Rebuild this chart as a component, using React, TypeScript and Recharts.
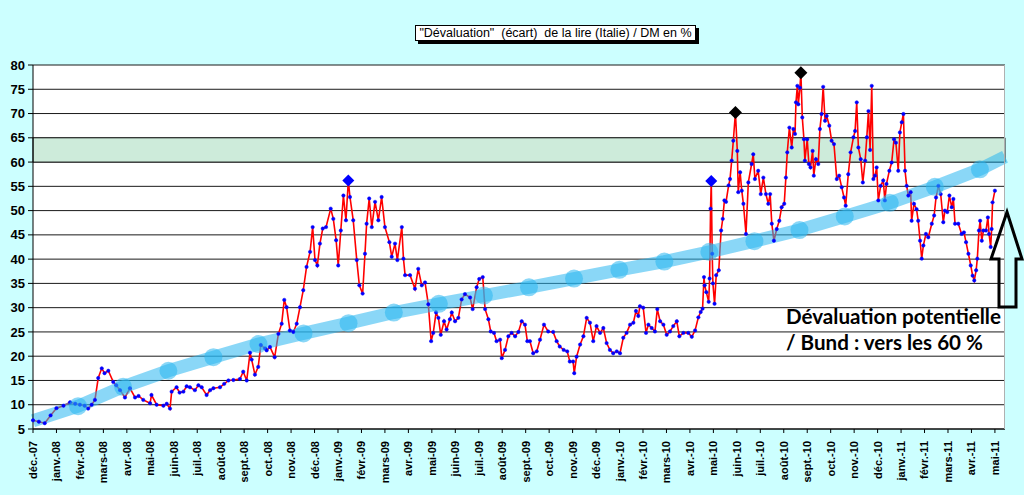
import React from "react";
import {
    ComposedChart, Line, Scatter, XAxis, YAxis, CartesianGrid, ReferenceArea,
} from "recharts";

// x = position in months from déc.-07 (0) to mai-11 (41)
const MOIS_LABELS = [
    "déc.-07", "janv.-08", "févr.-08", "mars-08", "avr.-08", "mai-08", "juin-08", "juil.-08",
    "août-08", "sept.-08", "oct.-08", "nov.-08", "déc.-08", "janv.-09", "févr.-09", "mars-09",
    "avr.-09", "mai-09", "juin-09", "juil.-09", "août-09", "sept.-09", "oct.-09", "nov.-09",
    "déc.-09", "janv.-10", "févr.-10", "mars-10", "avr.-10", "mai-10", "juin-10", "juil.-10",
    "août-10", "sept.-10", "oct.-10", "nov.-10", "déc.-10", "janv.-11", "févr.-11", "mars-11",
    "avr.-11", "mai-11",
];

const Y_TICKS = [5, 10, 15, 20, 25, 30, 35, 40, 45, 50, 55, 60, 65, 70, 75, 80];

// écart lire / DM en %
const MOIS = [
    0, 0.25, 0.5, 0.75, 1.0, 1.3, 1.58, 1.8, 2.0, 2.2, 2.35, 2.5, 2.64, 2.78, 2.93, 3.05, 3.21, 3.42, 3.55, 3.71,
    3.92, 4.13, 4.35, 4.5, 4.7, 4.99, 5.05, 5.27, 5.56, 5.7, 5.84, 5.91, 6.12, 6.25, 6.41, 6.55, 6.69, 6.9, 7.05, 7.19,
    7.4, 7.55, 7.69, 7.97, 8.15, 8.33, 8.54, 8.82, 8.96, 9.11, 9.25, 9.32, 9.46, 9.6, 9.71, 9.89, 9.96, 10.1, 10.3, 10.46,
    10.6, 10.71, 10.81, 10.95, 11.1, 11.24, 11.38, 11.52, 11.66, 11.81, 11.92, 12.02, 12.12, 12.23, 12.35, 12.49, 12.69, 12.8, 12.92, 13.01,
    13.12, 13.23, 13.34, 13.44, 13.51, 13.65, 13.8, 13.91, 14.05, 14.15, 14.22, 14.33, 14.44, 14.58, 14.72, 14.86, 15.0, 15.19, 15.29, 15.43,
    15.53, 15.72, 15.79, 15.86, 16.07, 16.28, 16.42, 16.57, 16.71, 16.85, 16.97, 17.06, 17.18, 17.28, 17.38, 17.52, 17.63, 17.77, 17.85, 17.99,
    18.13, 18.27, 18.41, 18.63, 18.74, 18.91, 19.02, 19.17, 19.27, 19.41, 19.51, 19.65, 19.76, 19.91, 19.98, 20.12, 20.26, 20.4, 20.55, 20.69,
    20.83, 20.97, 21.07, 21.18, 21.32, 21.47, 21.61, 21.78, 21.96, 22.17, 22.32, 22.45, 22.62, 22.77, 22.88, 23.02, 23.07, 23.17, 23.32, 23.46,
    23.6, 23.74, 23.88, 24.02, 24.17, 24.31, 24.45, 24.59, 24.73, 24.88, 25.02, 25.16, 25.3, 25.45, 25.59, 25.7, 25.8, 25.87, 26.01, 26.13,
    26.23, 26.37, 26.51, 26.61, 26.73, 26.87, 27.01, 27.15, 27.29, 27.44, 27.55, 27.72, 27.93, 28.08, 28.22, 28.36, 28.46, 28.54, 28.6, 28.63,
    28.7, 28.8, 28.84, 28.88, 28.91, 28.95, 28.98, 29.05, 29.12, 29.23, 29.33, 29.4, 29.47, 29.54, 29.65, 29.71, 29.78, 29.85, 29.94, 30.02,
    30.06, 30.14, 30.21, 30.28, 30.39, 30.49, 30.63, 30.7, 30.77, 30.91, 31.02, 31.13, 31.24, 31.34, 31.42, 31.49, 31.58, 31.7, 31.81, 31.91,
    32.02, 32.09, 32.15, 32.24, 32.34, 32.41, 32.48, 32.52, 32.58, 32.62, 32.69, 32.73, 32.79, 32.86, 32.9, 33.0, 33.07, 33.14, 33.23, 33.28,
    33.37, 33.47, 33.54, 33.61, 33.68, 33.76, 33.83, 33.94, 34.04, 34.14, 34.26, 34.36, 34.47, 34.57, 34.64, 34.75, 34.85, 34.97, 35.04, 35.11,
    35.18, 35.28, 35.37, 35.47, 35.54, 35.61, 35.68, 35.75, 35.82, 35.89, 35.96, 36.03, 36.13, 36.24, 36.31, 36.38, 36.5, 36.6, 36.7, 36.78,
    36.88, 36.95, 37.03, 37.1, 37.17, 37.24, 37.31, 37.41, 37.45, 37.55, 37.66, 37.73, 37.81, 37.88, 37.95, 38.06, 38.16, 38.31, 38.41, 38.49,
    38.59, 38.69, 38.8, 38.87, 38.97, 39.06, 39.16, 39.23, 39.3, 39.44, 39.58, 39.68, 39.77, 39.87, 39.97, 40.05, 40.12, 40.2, 40.25, 40.32,
    40.37, 40.44, 40.51, 40.62, 40.7, 40.75, 40.82, 40.86, 40.9, 41.0,
];

const DEVAL = [
    6.8, 6.5, 6.2, 7.8, 9.3, 9.8, 10.5, 10.2, 10.0, 9.8, 9.2, 10, 11, 15.5, 17.5, 16.5, 17, 14.7, 14, 13,
    11.5, 13.4, 11.5, 11.8, 11, 10.3, 12, 10, 9.8, 10.2, 9.2, 12.7, 13.6, 12.5, 12.7, 13.8, 13.6, 13, 14, 13.6,
    12, 13, 13.4, 13.6, 14.3, 15, 15.1, 15.3, 16.8, 15, 20.7, 19.3, 16.2, 17.8, 22.3, 21.6, 21.2, 21.9, 19.8, 24.6,
    26.7, 31.6, 30.1, 25.3, 25, 26.7, 30.1, 33.6, 38.4, 41.5, 46.6, 39.8, 38.7, 43.2, 46.3, 46.6, 50.4, 48.3, 43.9, 38.7,
    45.9, 53.1, 48, 56.2, 52.8, 48, 39.8, 34.6, 32.9, 41.1, 47.3, 52.5, 46.6, 51.8, 48, 52.8, 46.6, 43.5, 40.5, 43.2,
    39.8, 46.6, 40.1, 36.7, 36.7, 33.9, 38, 34.6, 35.2, 30.7, 23.1, 24.8, 29, 27.9, 24.4, 27.2, 25.5, 27.6, 29, 27.2,
    27.9, 31.7, 32.8, 32.1, 29.7, 34.2, 35.9, 36.3, 29.7, 27.6, 25.1, 24.8, 23.1, 23.4, 19.6, 21.3, 24.1, 24.8, 24.1, 25,
    27.2, 26.5, 23.1, 23.1, 20.6, 21, 23.4, 26.5, 25.1, 25, 23.1, 22, 21.3, 21, 18.9, 18.9, 16.5, 19.9, 22.4, 24.1,
    27.9, 26.9, 23.1, 26.2, 24.8, 25.8, 22.7, 21.3, 20.6, 21, 20.6, 23.8, 24.8, 26.5, 26.9, 29.3, 28.3, 30.3, 30, 24.8,
    26.5, 25.8, 25.1, 29.7, 27.2, 26.5, 24.4, 25.1, 26.2, 27.2, 24.1, 24.8, 24.8, 24, 25.3, 28, 29.1, 29.8, 36.3, 34.6,
    33.2, 31.2, 36, 50.4, 56.1, 41.1, 35, 30.8, 36.7, 37.7, 45.9, 48.3, 52.1, 51.8, 55.2, 56.5, 60.3, 64.4, 70.2, 62.3,
    53.8, 57.9, 54.1, 51.4, 45.2, 55.8, 59.6, 61.6, 56.5, 58.2, 53.4, 56.8, 53.4, 51.4, 53.4, 47.3, 43.8, 46.2, 47.9, 50.7,
    51.4, 56.8, 62, 67.1, 63, 66.8, 65.8, 72.3, 75.7, 71.9, 75.3, 78.4, 69.2, 64.7, 60.3, 64.7, 59.6, 58.9, 62.3, 57.2,
    60.6, 59.6, 66.8, 69.9, 75.5, 68.5, 69.5, 67.5, 64.4, 63.7, 56.5, 57.2, 54.8, 52.7, 51, 57.5, 62, 65.1, 66.4, 72.3,
    63, 60.6, 55.8, 60.3, 65.1, 70.5, 62.5, 75.7, 56.5, 57.2, 58.9, 52.1, 55.1, 56.2, 52.1, 55.5, 58.2, 59.9, 64.7, 64,
    58.2, 66.1, 68.2, 69.9, 58.2, 55.1, 53.1, 53.8, 47.9, 51.4, 50.3, 47.9, 43.8, 40.1, 42.8, 45.2, 44.5, 47.3, 49, 52.7,
    55.1, 53.4, 47.6, 50, 49.7, 53.1, 50.7, 52.4, 47.3, 47.3, 45.2, 45.5, 43.5, 41.1, 38.7, 36.6, 35.6, 37.7, 40.1, 45.9,
    47.9, 43.8, 45.9, 45.9, 48.6, 45.2, 42.5, 46.2, 51.7, 54.1,
];

// tendance (bande bleue)
const TREND_MOIS = [0, 1.92, 3.84, 5.77, 7.69, 9.61, 11.53, 13.45, 15.38, 17.3, 19.22, 21.14, 23.06, 24.99, 26.91, 28.83, 30.75, 32.67, 34.6, 36.52, 38.44, 40.36, 41.43];
const TREND_VAL = [6.7, 9.7, 13.7, 17, 19.8, 22.5, 24.7, 26.8, 29, 30.8, 32.5, 34.2, 36, 37.8, 39.5, 41.5, 43.7, 46, 48.8, 51.6, 54.9, 58.5, 61.1];

// pics marqués
const PICS_BLEUS = [{ m: 13.44, v: 56.2 }, { m: 28.91, v: 56.1 }];
const PICS_NOIRS = [{ m: 29.94, v: 70.2 }, { m: 32.73, v: 78.4 }];

const serie = MOIS.map((m, i) => ({ m, v: DEVAL[i] }));
const tendance = TREND_MOIS.map((m, i) => ({ m, v: TREND_VAL[i] }));

const AXIS_FONT = "Arial, 'Liberation Sans', sans-serif";

const MonthTick = (props: any) => {
    const { x, y, payload } = props;
    return (
        <g transform={`translate(${x},${y})`}>
            <text
                transform="rotate(-90)"
                x={-6}
                y={0}
                dy="0.36em"
                textAnchor="end"
                fontFamily={AXIS_FONT}
                fontSize={11}
                fontWeight="bold"
                fill="#000"
            >
                {MOIS_LABELS[payload.value]}
            </text>
        </g>
    );
};

const diamond = (color: string, s: number) => (props: any) => {
    const { cx, cy } = props;
    return (
        <polygon
            points={`${cx},${cy - s} ${cx + s},${cy} ${cx},${cy + s} ${cx - s},${cy}`}
            fill={color}
        />
    );
};

// no marker on the two end points of the trend
const trendDot = (props: any) => {
    const { cx, cy, index } = props;
    if (index === 0 || index === TREND_MOIS.length - 1) return <g key={`t${index}`} />;
    return <circle key={`t${index}`} cx={cx} cy={cy} r={9} fill="#29b6f0" fillOpacity={0.55} />;
};

export default function App() {
    return (
        <div
            style={{
                position: "absolute", left: 0, top: 0, width: 1024, height: 495,
                background: "#ccffff", overflow: "hidden", fontFamily: AXIS_FONT,
            }}
        >
            <ComposedChart width={1024} height={495} margin={{ top: 65, right: 19, left: 0, bottom: 6 }}>
                <CartesianGrid vertical={false} stroke="#1a1a1a" fill="#ffffff" fillOpacity={1} />
                <ReferenceArea y1={60} y2={65} fill="#cdebda" fillOpacity={1} stroke="#1a1a1a" strokeWidth={1} />
                <XAxis
                    type="number"
                    dataKey="m"
                    domain={[0, 41.43]}
                    ticks={MOIS_LABELS.map((_, i) => i)}
                    interval={0}
                    height={60}
                    tick={<MonthTick />}
                    tickSize={4}
                    tickLine={{ stroke: "#000" }}
                    axisLine={{ stroke: "#000" }}
                />
                <YAxis
                    type="number"
                    domain={[5, 80]}
                    ticks={Y_TICKS}
                    interval={0}
                    width={33}
                    tickSize={5}
                    tickMargin={3}
                    tickLine={{ stroke: "#000" }}
                    axisLine={{ stroke: "#000" }}
                    tick={{ fill: "#000", fontSize: 13, fontWeight: "bold", fontFamily: AXIS_FONT }}
                />
                <Line
                    data={serie}
                    dataKey="v"
                    type="linear"
                    stroke="#ff0000"
                    strokeWidth={1.6}
                    dot={{ r: 1.7, fill: "#0000ff", stroke: "#0000ff", strokeWidth: 0.5 }}
                    isAnimationActive={false}
                />
                <Line
                    data={tendance}
                    dataKey="v"
                    type="linear"
                    stroke="#29b6f0"
                    strokeOpacity={0.55}
                    strokeWidth={13}
                    dot={trendDot}
                    isAnimationActive={false}
                />
                <Scatter data={PICS_BLEUS} dataKey="v" shape={diamond("#0000ff", 6)} isAnimationActive={false} />
                <Scatter data={PICS_NOIRS} dataKey="v" shape={diamond("#000000", 6.5)} isAnimationActive={false} />
            </ComposedChart>

            {/* bord droit de la zone de tracé */}
            <div style={{ position: "absolute", left: 1004, top: 65, width: 1, height: 364, background: "#b0b0b0" }} />

            {/* titre */}
            <div
                style={{
                    position: "absolute", left: 415, top: 25, width: 279, height: 14,
                    background: "#fff", border: "1px solid #000", boxShadow: "3px 3px 0 #000",
                    fontFamily: AXIS_FONT, fontSize: 12.5, lineHeight: "14px", textAlign: "center",
                    whiteSpace: "pre", color: "#000",
                }}
            >
                {'"Dévaluation"  (écart)  de la lire (Italie) / DM en %'}
            </div>

            {/* annotation */}
            <div
                style={{
                    position: "absolute", left: 786, top: 303, fontFamily: "Lato, 'Open Sans', sans-serif",
                    fontWeight: "bold", fontSize: 20.6, lineHeight: "26px", color: "#000", whiteSpace: "pre",
                }}
            >
                {"Dévaluation potentielle\n/ Bund : vers les 60 %"}
            </div>

            {/* flèche */}
            <svg width={1024} height={495} style={{ position: "absolute", left: 0, top: 0, pointerEvents: "none" }}>
                <polygon
                    points="1007,212 1022,259 1016,259 1016,307 999,307 999,259 991,259"
                    fill="none"
                    stroke="#000"
                    strokeWidth={3}
                    strokeLinejoin="miter"
                />
            </svg>
        </div>
    );
}
